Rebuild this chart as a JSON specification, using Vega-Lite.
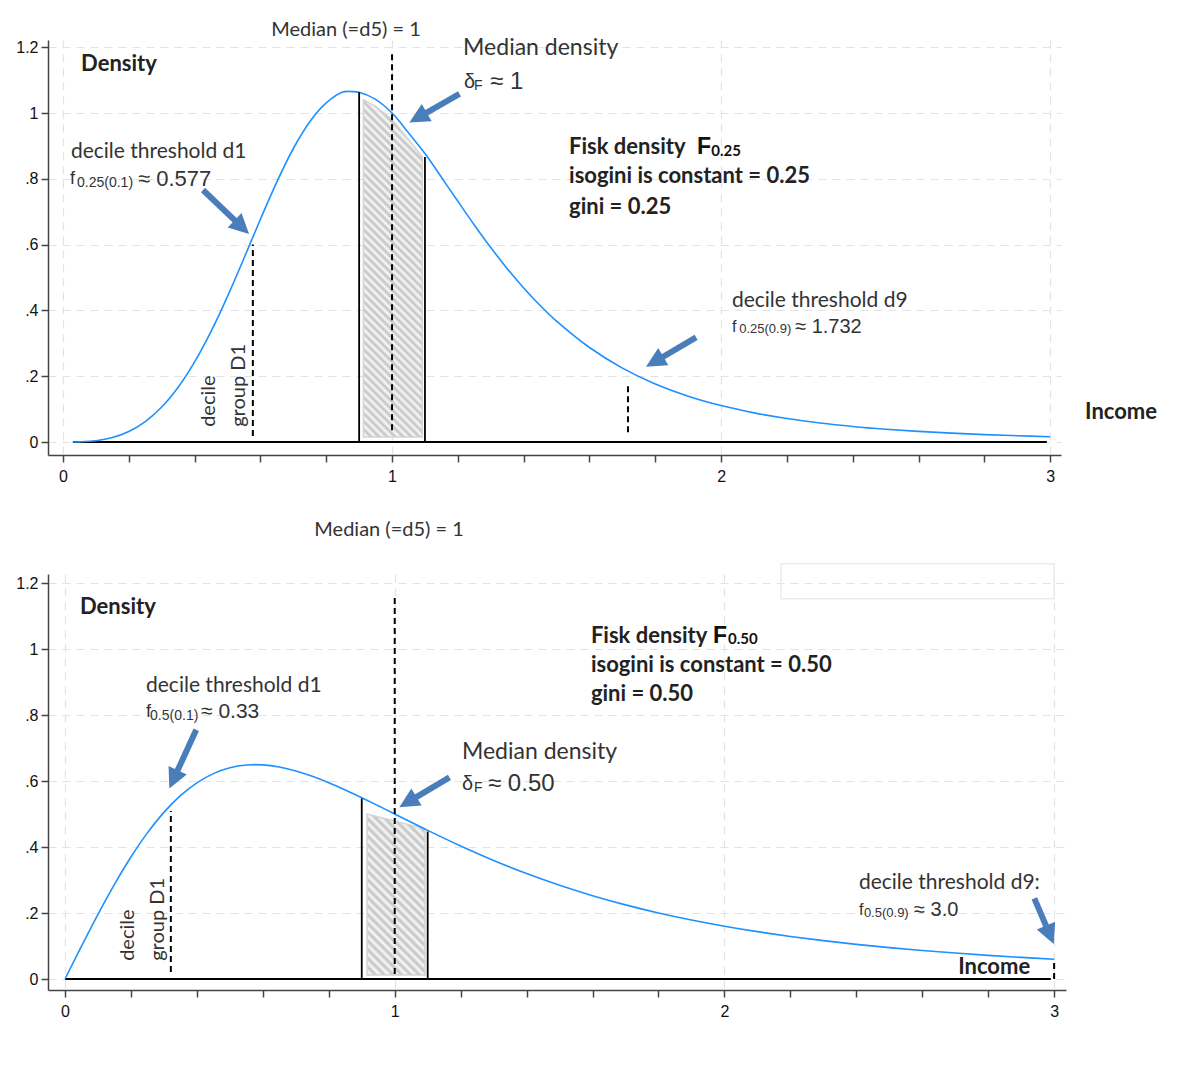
{
  "$schema": "https://vega.github.io/schema/vega-lite/v6.json",
  "background": "white",
  "padding": {"left": 15, "top": 20, "right": 5, "bottom": 5},
  "spacing": 35,
  "config": {
    "view": {"stroke": null},
    "axis": {
      "domainColor": "#444444", "domainWidth": 1.5,
      "tickColor": "#444444", "tickWidth": 1.5, "tickSize": 7,
      "labelFont": "Liberation Sans", "labelFontSize": 16, "labelColor": "#111111",
      "labelFlush": false, "labelOverlap": false,
      "gridColor": "#e3e3e3", "gridDash": [8, 6], "gridWidth": 1.2
    },
    "text": {"font": "Lato", "baseline": "middle", "align": "left", "color": "#333333"}
  },
  "vconcat": [
    {
      "width": 1013,
      "height": 415,
      "encoding": {
        "x": {"field": "x", "type": "quantitative", "title": null,
          "scale": {"domain": [-0.0456, 3.033], "nice": false, "zero": false},
          "axis": {"values": [0, 0.2, 0.4, 0.6, 0.8, 1, 1.2, 1.4, 1.6, 1.8, 2, 2.2, 2.4, 2.6, 2.8, 3],
            "labelExpr": "datum.value % 1 === 0 ? format(datum.value, 'd') : ''",
            "labelPadding": 6,
            "gridOpacity": {"condition": {"test": "datum.value % 1 === 0", "value": 1}, "value": 0}}},
        "y": {"field": "y", "type": "quantitative", "title": null,
          "scale": {"domain": [-0.0395, 1.222], "nice": false, "zero": false},
          "axis": {"values": [0, 0.2, 0.4, 0.6, 0.8, 1, 1.2],
            "labelExpr": "replace(format(datum.value, '~g'), '0.', '.')",
            "labelPadding": 3}}
      },
      "layer": [
        {
          "data": {"values": [{"x": 0.03, "x2": 2.99, "y": 0}]},
          "mark": {"type": "rule", "color": "black", "strokeWidth": 2},
          "encoding": {"x2": {"field": "x2"}}
        },
        {
          "data": {"values": [
            {"x": 0.913, "y": 1.04, "y2": 0.015},
            {"x": 0.95, "y": 1.02, "y2": 0.015},
            {"x": 1.0, "y": 0.98, "y2": 0.015},
            {"x": 1.05, "y": 0.92, "y2": 0.015},
            {"x": 1.092, "y": 0.867, "y2": 0.015}
          ]},
          "mark": {"type": "area", "stroke": "#d4d4d4", "strokeWidth": 1.5, "fill": {
            "gradient": "linear", "x1": 0, "y1": 1, "x2": 0.2, "y2": -0.15,
            "stops": [
              {"offset": 0, "color": "#c2c2c2"}, {"offset": 0.01, "color": "#f9f9f9"}, {"offset": 0.02, "color": "#c2c2c2"}, {"offset": 0.03, "color": "#f9f9f9"},
              {"offset": 0.04, "color": "#c2c2c2"}, {"offset": 0.05, "color": "#f9f9f9"}, {"offset": 0.06, "color": "#c2c2c2"}, {"offset": 0.07, "color": "#f9f9f9"},
              {"offset": 0.08, "color": "#c2c2c2"}, {"offset": 0.09, "color": "#f9f9f9"}, {"offset": 0.1, "color": "#c2c2c2"}, {"offset": 0.11, "color": "#f9f9f9"},
              {"offset": 0.12, "color": "#c2c2c2"}, {"offset": 0.13, "color": "#f9f9f9"}, {"offset": 0.14, "color": "#c2c2c2"}, {"offset": 0.15, "color": "#f9f9f9"},
              {"offset": 0.16, "color": "#c2c2c2"}, {"offset": 0.17, "color": "#f9f9f9"}, {"offset": 0.18, "color": "#c2c2c2"}, {"offset": 0.19, "color": "#f9f9f9"},
              {"offset": 0.2, "color": "#c2c2c2"}, {"offset": 0.21, "color": "#f9f9f9"}, {"offset": 0.22, "color": "#c2c2c2"}, {"offset": 0.23, "color": "#f9f9f9"},
              {"offset": 0.24, "color": "#c2c2c2"}, {"offset": 0.25, "color": "#f9f9f9"}, {"offset": 0.26, "color": "#c2c2c2"}, {"offset": 0.27, "color": "#f9f9f9"},
              {"offset": 0.28, "color": "#c2c2c2"}, {"offset": 0.29, "color": "#f9f9f9"}, {"offset": 0.3, "color": "#c2c2c2"}, {"offset": 0.31, "color": "#f9f9f9"},
              {"offset": 0.32, "color": "#c2c2c2"}, {"offset": 0.33, "color": "#f9f9f9"}, {"offset": 0.34, "color": "#c2c2c2"}, {"offset": 0.35, "color": "#f9f9f9"},
              {"offset": 0.36, "color": "#c2c2c2"}, {"offset": 0.37, "color": "#f9f9f9"}, {"offset": 0.38, "color": "#c2c2c2"}, {"offset": 0.39, "color": "#f9f9f9"},
              {"offset": 0.4, "color": "#c2c2c2"}, {"offset": 0.41, "color": "#f9f9f9"}, {"offset": 0.42, "color": "#c2c2c2"}, {"offset": 0.43, "color": "#f9f9f9"},
              {"offset": 0.44, "color": "#c2c2c2"}, {"offset": 0.45, "color": "#f9f9f9"}, {"offset": 0.46, "color": "#c2c2c2"}, {"offset": 0.47, "color": "#f9f9f9"},
              {"offset": 0.48, "color": "#c2c2c2"}, {"offset": 0.49, "color": "#f9f9f9"}, {"offset": 0.5, "color": "#c2c2c2"}, {"offset": 0.51, "color": "#f9f9f9"},
              {"offset": 0.52, "color": "#c2c2c2"}, {"offset": 0.53, "color": "#f9f9f9"}, {"offset": 0.54, "color": "#c2c2c2"}, {"offset": 0.55, "color": "#f9f9f9"},
              {"offset": 0.56, "color": "#c2c2c2"}, {"offset": 0.57, "color": "#f9f9f9"}, {"offset": 0.58, "color": "#c2c2c2"}, {"offset": 0.59, "color": "#f9f9f9"},
              {"offset": 0.6, "color": "#c2c2c2"}, {"offset": 0.61, "color": "#f9f9f9"}, {"offset": 0.62, "color": "#c2c2c2"}, {"offset": 0.63, "color": "#f9f9f9"},
              {"offset": 0.64, "color": "#c2c2c2"}, {"offset": 0.65, "color": "#f9f9f9"}, {"offset": 0.66, "color": "#c2c2c2"}, {"offset": 0.67, "color": "#f9f9f9"},
              {"offset": 0.68, "color": "#c2c2c2"}, {"offset": 0.69, "color": "#f9f9f9"}, {"offset": 0.7, "color": "#c2c2c2"}, {"offset": 0.71, "color": "#f9f9f9"},
              {"offset": 0.72, "color": "#c2c2c2"}, {"offset": 0.73, "color": "#f9f9f9"}, {"offset": 0.74, "color": "#c2c2c2"}, {"offset": 0.75, "color": "#f9f9f9"},
              {"offset": 0.76, "color": "#c2c2c2"}, {"offset": 0.77, "color": "#f9f9f9"}, {"offset": 0.78, "color": "#c2c2c2"}, {"offset": 0.79, "color": "#f9f9f9"},
              {"offset": 0.8, "color": "#c2c2c2"}, {"offset": 0.81, "color": "#f9f9f9"}, {"offset": 0.82, "color": "#c2c2c2"}, {"offset": 0.83, "color": "#f9f9f9"},
              {"offset": 0.84, "color": "#c2c2c2"}, {"offset": 0.85, "color": "#f9f9f9"}, {"offset": 0.86, "color": "#c2c2c2"}, {"offset": 0.87, "color": "#f9f9f9"},
              {"offset": 0.88, "color": "#c2c2c2"}, {"offset": 0.89, "color": "#f9f9f9"}, {"offset": 0.9, "color": "#c2c2c2"}, {"offset": 0.91, "color": "#f9f9f9"},
              {"offset": 0.92, "color": "#c2c2c2"}, {"offset": 0.93, "color": "#f9f9f9"}, {"offset": 0.94, "color": "#c2c2c2"}, {"offset": 0.95, "color": "#f9f9f9"},
              {"offset": 0.96, "color": "#c2c2c2"}, {"offset": 0.97, "color": "#f9f9f9"}, {"offset": 0.98, "color": "#c2c2c2"}, {"offset": 0.99, "color": "#f9f9f9"},
              {"offset": 1, "color": "#c2c2c2"}
            ]}},
          "encoding": {"y2": {"field": "y2"}}
        },
        {
          "data": {"values": [
            {"x": 0.03, "y": 0.0001}, {"x": 0.05, "y": 0.0005}, {"x": 0.1, "y": 0.004}, {"x": 0.15, "y": 0.0135},
            {"x": 0.2, "y": 0.0319}, {"x": 0.25, "y": 0.062}, {"x": 0.3, "y": 0.1063}, {"x": 0.35, "y": 0.1665},
            {"x": 0.4, "y": 0.2434}, {"x": 0.45, "y": 0.3364}, {"x": 0.5, "y": 0.4429}, {"x": 0.55, "y": 0.5586},
            {"x": 0.6, "y": 0.6771}, {"x": 0.65, "y": 0.7909}, {"x": 0.7, "y": 0.8922}, {"x": 0.75, "y": 0.9738},
            {"x": 0.8, "y": 1.0307}, {"x": 0.85, "y": 1.0637}, {"x": 0.88, "y": 1.0652}, {"x": 0.9, "y": 1.0632},
            {"x": 0.95, "y": 1.0416}, {"x": 1.0, "y": 1.0}, {"x": 1.05, "y": 0.94}, {"x": 1.1, "y": 0.8768},
            {"x": 1.15, "y": 0.805}, {"x": 1.2, "y": 0.7317}, {"x": 1.25, "y": 0.6597}, {"x": 1.3, "y": 0.591},
            {"x": 1.35, "y": 0.527}, {"x": 1.4, "y": 0.4682}, {"x": 1.45, "y": 0.415}, {"x": 1.5, "y": 0.3673},
            {"x": 1.6, "y": 0.2872}, {"x": 1.7, "y": 0.2247}, {"x": 1.8, "y": 0.1765}, {"x": 1.9, "y": 0.1393},
            {"x": 2.0, "y": 0.1107}, {"x": 2.1, "y": 0.0886}, {"x": 2.2, "y": 0.0714}, {"x": 2.3, "y": 0.0579},
            {"x": 2.4, "y": 0.0473}, {"x": 2.5, "y": 0.0389}, {"x": 2.6, "y": 0.0322}, {"x": 2.7, "y": 0.0269},
            {"x": 2.8, "y": 0.0225}, {"x": 2.9, "y": 0.019}, {"x": 3.0, "y": 0.0161}
          ]},
          "mark": {"type": "line", "color": "#1E90FF", "strokeWidth": 1.6, "interpolate": "catmull-rom"}
        },
        {
          "data": {"values": [{"x": 0.9, "y": 0, "y2": 1.063}, {"x": 1.1, "y": 0, "y2": 0.866}]},
          "mark": {"type": "rule", "color": "black", "strokeWidth": 1.8},
          "encoding": {"y2": {"field": "y2"}}
        },
        {
          "data": {"values": [{"x": 0.577, "y": 0.018, "y2": 0.6}, {"x": 1.0, "y": 0.036, "y2": 1.18}, {"x": 1.717, "y": 0.03, "y2": 0.179}]},
          "mark": {"type": "rule", "color": "black", "strokeWidth": 2, "strokeDash": [6, 4]},
          "encoding": {"y2": {"field": "y2"}}
        },
        {
          "data": {"values": [
            {"x": 0.4255, "y": 0.766, "x2": 0.5435, "y2": 0.653},
            {"x": 1.205, "y": 1.058, "x2": 1.079, "y2": 0.986},
            {"x": 1.924, "y": 0.318, "x2": 1.798, "y2": 0.244}
          ]},
          "mark": {"type": "rule", "color": "#4A7EBB", "strokeWidth": 6, "strokeCap": "butt"},
          "encoding": {"x2": {"field": "x2"}, "y2": {"field": "y2"}}
        },
        {
          "data": {"values": [
            {"x": 0.5435, "y": 0.653, "angle": 133.7},
            {"x": 1.079, "y": 0.986, "angle": 240.2},
            {"x": 1.798, "y": 0.244, "angle": 239.7}
          ]},
          "mark": {"type": "point", "shape": "M0,-1L1,1L-1,1Z", "filled": true, "size": 400, "color": "#4A7EBB", "opacity": 1},
          "encoding": {"angle": {"field": "angle", "type": "quantitative", "scale": null}}
        },
        {
          "data": {"values": [{"x": 0.86, "y": 1.252, "t": "Median (=d5) = 1"}]},
          "mark": {"type": "text", "fontSize": 20, "align": "center"},
          "encoding": {"text": {"field": "t"}}
        },
        {
          "data": {"values": [{"x": 0.024, "y": 0.881, "t": "decile threshold d1"}, {"x": 2.033, "y": 0.429, "t": "decile threshold d9"}]},
          "mark": {"type": "text", "fontSize": 21},
          "encoding": {"text": {"field": "t"}}
        },
        {
          "data": {"values": [{"x": 1.216, "y": 1.198, "t": "Median density"}]},
          "mark": {"type": "text", "fontSize": 23},
          "encoding": {"text": {"field": "t"}}
        },
        {
          "data": {"values": [{"x": 0.444, "y": 0.046, "t": "decile"}, {"x": 0.536, "y": 0.046, "t": "group D1"}]},
          "mark": {"type": "text", "fontSize": 20, "angle": 270},
          "encoding": {"text": {"field": "t"}}
        },
        {
          "data": {"values": [
            {"x": 0.055, "y": 1.149, "t": "Density"},
            {"x": 1.538, "y": 0.897, "t": "Fisk density"},
            {"x": 1.538, "y": 0.809, "t": "isogini is constant = 0.25"},
            {"x": 1.538, "y": 0.714, "t": "gini = 0.25"},
            {"x": 3.106, "y": 0.091, "t": "Income"}
          ]},
          "mark": {"type": "text", "fontSize": 22, "fontWeight": "bold", "color": "#222222"},
          "encoding": {"text": {"field": "t"}}
        },
        {
          "data": {"values": [{"x": 1.927, "y": 0.897, "t": "F"}]},
          "mark": {"type": "text", "font": "Liberation Sans", "fontSize": 23, "fontWeight": "bold", "color": "#111111"},
          "encoding": {"text": {"field": "t"}}
        },
        {
          "data": {"values": [{"x": 1.97, "y": 0.884, "t": "0.25"}]},
          "mark": {"type": "text", "fontSize": 15, "fontWeight": "bold", "color": "#111111"},
          "encoding": {"text": {"field": "t"}}
        },
        {
          "data": {"values": [{"x": 2.055, "y": 0.343, "t": "0.25(0.9)"}]},
          "mark": {"type": "text", "font": "Liberation Sans", "fontSize": 13},
          "encoding": {"text": {"field": "t"}}
        },
        {
          "data": {"values": [{"x": 0.0426, "y": 0.787, "t": "0.25(0.1)"}, {"x": 1.249, "y": 1.082, "t": "F"}]},
          "mark": {"type": "text", "font": "Liberation Sans", "fontSize": 14},
          "encoding": {"text": {"field": "t"}}
        },
        {
          "data": {"values": [{"x": 2.033, "y": 0.35, "t": "f"}]},
          "mark": {"type": "text", "font": "Liberation Sans", "fontSize": 16},
          "encoding": {"text": {"field": "t"}}
        },
        {
          "data": {"values": [{"x": 0.0213, "y": 0.799, "t": "f"}]},
          "mark": {"type": "text", "font": "Liberation Sans", "fontSize": 18},
          "encoding": {"text": {"field": "t"}}
        },
        {
          "data": {"values": [{"x": 2.225, "y": 0.35, "t": "≈ 1.732"}, {"x": 1.219, "y": 1.094, "t": "δ"}]},
          "mark": {"type": "text", "font": "Liberation Sans", "fontSize": 20},
          "encoding": {"text": {"field": "t"}}
        },
        {
          "data": {"values": [{"x": 0.228, "y": 0.799, "t": "≈ 0.577"}]},
          "mark": {"type": "text", "font": "Liberation Sans", "fontSize": 22},
          "encoding": {"text": {"field": "t"}}
        },
        {
          "data": {"values": [{"x": 1.298, "y": 1.094, "t": "≈ 1"}]},
          "mark": {"type": "text", "font": "Liberation Sans", "fontSize": 24},
          "encoding": {"text": {"field": "t"}}
        }
      ]
    },
    {
      "width": 1018,
      "height": 416,
      "encoding": {
        "x": {"field": "x", "type": "quantitative", "title": null,
          "scale": {"domain": [-0.0516, 3.036], "nice": false, "zero": false},
          "axis": {"values": [0, 0.2, 0.4, 0.6, 0.8, 1, 1.2, 1.4, 1.6, 1.8, 2, 2.2, 2.4, 2.6, 2.8, 3],
            "labelExpr": "datum.value % 1 === 0 ? format(datum.value, 'd') : ''",
            "labelPadding": 6,
            "gridOpacity": {"condition": {"test": "datum.value % 1 === 0", "value": 1}, "value": 0}}},
        "y": {"field": "y", "type": "quantitative", "title": null,
          "scale": {"domain": [-0.0333, 1.2273], "nice": false, "zero": false},
          "axis": {"values": [0, 0.2, 0.4, 0.6, 0.8, 1, 1.2],
            "labelExpr": "replace(format(datum.value, '~g'), '0.', '.')",
            "labelPadding": 3}}
      },
      "layer": [
        {
          "data": {"values": [{"x": 2.172, "x2": 3.0, "y": 1.258, "y2": 1.152}]},
          "mark": {"type": "rect", "fill": null, "stroke": "#ececec", "strokeWidth": 1.5},
          "encoding": {"x2": {"field": "x2"}, "y2": {"field": "y2"}}
        },
        {
          "data": {"values": [{"x": 0, "x2": 2.99, "y": 0}]},
          "mark": {"type": "rule", "color": "black", "strokeWidth": 2},
          "encoding": {"x2": {"field": "x2"}}
        },
        {
          "data": {"values": [
            {"x": 0.916, "y": 0.5, "y2": 0.012},
            {"x": 1.092, "y": 0.455, "y2": 0.012}
          ]},
          "mark": {"type": "area", "stroke": "#d4d4d4", "strokeWidth": 1.5, "fill": {
            "gradient": "linear", "x1": 0, "y1": 1, "x2": 0.43, "y2": -0.2,
            "stops": [
              {"offset": 0, "color": "#c2c2c2"}, {"offset": 0.02, "color": "#f9f9f9"}, {"offset": 0.04, "color": "#c2c2c2"}, {"offset": 0.06, "color": "#f9f9f9"},
              {"offset": 0.08, "color": "#c2c2c2"}, {"offset": 0.1, "color": "#f9f9f9"}, {"offset": 0.12, "color": "#c2c2c2"}, {"offset": 0.14, "color": "#f9f9f9"},
              {"offset": 0.16, "color": "#c2c2c2"}, {"offset": 0.18, "color": "#f9f9f9"}, {"offset": 0.2, "color": "#c2c2c2"}, {"offset": 0.22, "color": "#f9f9f9"},
              {"offset": 0.24, "color": "#c2c2c2"}, {"offset": 0.26, "color": "#f9f9f9"}, {"offset": 0.28, "color": "#c2c2c2"}, {"offset": 0.3, "color": "#f9f9f9"},
              {"offset": 0.32, "color": "#c2c2c2"}, {"offset": 0.34, "color": "#f9f9f9"}, {"offset": 0.36, "color": "#c2c2c2"}, {"offset": 0.38, "color": "#f9f9f9"},
              {"offset": 0.4, "color": "#c2c2c2"}, {"offset": 0.42, "color": "#f9f9f9"}, {"offset": 0.44, "color": "#c2c2c2"}, {"offset": 0.46, "color": "#f9f9f9"},
              {"offset": 0.48, "color": "#c2c2c2"}, {"offset": 0.5, "color": "#f9f9f9"}, {"offset": 0.52, "color": "#c2c2c2"}, {"offset": 0.54, "color": "#f9f9f9"},
              {"offset": 0.56, "color": "#c2c2c2"}, {"offset": 0.58, "color": "#f9f9f9"}, {"offset": 0.6, "color": "#c2c2c2"}, {"offset": 0.62, "color": "#f9f9f9"},
              {"offset": 0.64, "color": "#c2c2c2"}, {"offset": 0.66, "color": "#f9f9f9"}, {"offset": 0.68, "color": "#c2c2c2"}, {"offset": 0.7, "color": "#f9f9f9"},
              {"offset": 0.72, "color": "#c2c2c2"}, {"offset": 0.74, "color": "#f9f9f9"}, {"offset": 0.76, "color": "#c2c2c2"}, {"offset": 0.78, "color": "#f9f9f9"},
              {"offset": 0.8, "color": "#c2c2c2"}, {"offset": 0.82, "color": "#f9f9f9"}, {"offset": 0.84, "color": "#c2c2c2"}, {"offset": 0.86, "color": "#f9f9f9"},
              {"offset": 0.88, "color": "#c2c2c2"}, {"offset": 0.9, "color": "#f9f9f9"}, {"offset": 0.92, "color": "#c2c2c2"}, {"offset": 0.94, "color": "#f9f9f9"},
              {"offset": 0.96, "color": "#c2c2c2"}, {"offset": 0.98, "color": "#f9f9f9"}, {"offset": 1, "color": "#c2c2c2"}
            ]}},
          "encoding": {"y2": {"field": "y2"}}
        },
        {
          "data": {"values": [
            {"x": 0, "y": 0}, {"x": 0.05, "y": 0.0995}, {"x": 0.1, "y": 0.1961}, {"x": 0.15, "y": 0.2869},
            {"x": 0.2, "y": 0.3698}, {"x": 0.25, "y": 0.4429}, {"x": 0.3, "y": 0.505}, {"x": 0.35, "y": 0.5556},
            {"x": 0.4, "y": 0.5945}, {"x": 0.45, "y": 0.6224}, {"x": 0.5, "y": 0.64}, {"x": 0.55, "y": 0.6484},
            {"x": 0.6, "y": 0.6488}, {"x": 0.65, "y": 0.6424}, {"x": 0.7, "y": 0.6306}, {"x": 0.75, "y": 0.6144},
            {"x": 0.8, "y": 0.5949}, {"x": 0.85, "y": 0.573}, {"x": 0.9, "y": 0.5494}, {"x": 0.95, "y": 0.5249},
            {"x": 1.0, "y": 0.5}, {"x": 1.1, "y": 0.4504}, {"x": 1.2, "y": 0.4031}, {"x": 1.3, "y": 0.3593},
            {"x": 1.4, "y": 0.3196}, {"x": 1.5, "y": 0.284}, {"x": 1.6, "y": 0.2525}, {"x": 1.7, "y": 0.2247},
            {"x": 1.8, "y": 0.2002}, {"x": 1.9, "y": 0.1788}, {"x": 2.0, "y": 0.16}, {"x": 2.1, "y": 0.1435},
            {"x": 2.2, "y": 0.129}, {"x": 2.3, "y": 0.1163}, {"x": 2.4, "y": 0.105}, {"x": 2.5, "y": 0.0951},
            {"x": 2.6, "y": 0.0864}, {"x": 2.7, "y": 0.0786}, {"x": 2.8, "y": 0.0717}, {"x": 2.9, "y": 0.0655},
            {"x": 3.0, "y": 0.06}
          ]},
          "mark": {"type": "line", "color": "#1E90FF", "strokeWidth": 1.6, "interpolate": "catmull-rom"}
        },
        {
          "data": {"values": [{"x": 0.9, "y": 0, "y2": 0.547}, {"x": 1.1, "y": 0, "y2": 0.447}]},
          "mark": {"type": "rule", "color": "black", "strokeWidth": 1.8},
          "encoding": {"y2": {"field": "y2"}}
        },
        {
          "data": {"values": [{"x": 0.321, "y": 0.021, "y2": 0.509}, {"x": 1.0, "y": 0.015, "y2": 1.158}, {"x": 3.0, "y": 0.0, "y2": 0.055}]},
          "mark": {"type": "rule", "color": "black", "strokeWidth": 2, "strokeDash": [6, 4]},
          "encoding": {"y2": {"field": "y2"}}
        },
        {
          "data": {"values": [
            {"x": 0.398, "y": 0.755, "x2": 0.329, "y2": 0.605},
            {"x": 1.166, "y": 0.611, "x2": 1.04, "y2": 0.536},
            {"x": 2.94, "y": 0.2445, "x2": 2.987, "y2": 0.134}
          ]},
          "mark": {"type": "rule", "color": "#4A7EBB", "strokeWidth": 6, "strokeCap": "butt"},
          "encoding": {"x2": {"field": "x2"}, "y2": {"field": "y2"}}
        },
        {
          "data": {"values": [
            {"x": 0.329, "y": 0.605, "angle": 204.6},
            {"x": 1.04, "y": 0.536, "angle": 239},
            {"x": 2.987, "y": 0.134, "angle": 157}
          ]},
          "mark": {"type": "point", "shape": "M0,-1L1,1L-1,1Z", "filled": true, "size": 400, "color": "#4A7EBB", "opacity": 1},
          "encoding": {"angle": {"field": "angle", "type": "quantitative", "scale": null}}
        },
        {
          "data": {"values": [{"x": 0.983, "y": 1.361, "t": "Median (=d5) = 1"}]},
          "mark": {"type": "text", "fontSize": 20, "align": "center"},
          "encoding": {"text": {"field": "t"}}
        },
        {
          "data": {"values": [{"x": 0.2457, "y": 0.888, "t": "decile threshold d1"}, {"x": 2.408, "y": 0.291, "t": "decile threshold d9:"}]},
          "mark": {"type": "text", "fontSize": 21},
          "encoding": {"text": {"field": "t"}}
        },
        {
          "data": {"values": [{"x": 1.204, "y": 0.688, "t": "Median density"}]},
          "mark": {"type": "text", "fontSize": 23},
          "encoding": {"text": {"field": "t"}}
        },
        {
          "data": {"values": [{"x": 0.191, "y": 0.055, "t": "decile"}, {"x": 0.282, "y": 0.055, "t": "group D1"}]},
          "mark": {"type": "text", "fontSize": 20, "angle": 270},
          "encoding": {"text": {"field": "t"}}
        },
        {
          "data": {"values": [
            {"x": 0.0455, "y": 1.127, "t": "Density"},
            {"x": 1.595, "y": 1.039, "t": "Fisk density"},
            {"x": 1.595, "y": 0.952, "t": "isogini is constant = 0.50"},
            {"x": 1.595, "y": 0.864, "t": "gini = 0.50"},
            {"x": 2.709, "y": 0.036, "t": "Income"}
          ]},
          "mark": {"type": "text", "fontSize": 22, "fontWeight": "bold", "color": "#222222"},
          "encoding": {"text": {"field": "t"}}
        },
        {
          "data": {"values": [{"x": 1.965, "y": 1.039, "t": "F"}]},
          "mark": {"type": "text", "font": "Liberation Sans", "fontSize": 23, "fontWeight": "bold", "color": "#111111"},
          "encoding": {"text": {"field": "t"}}
        },
        {
          "data": {"values": [{"x": 2.011, "y": 1.03, "t": "0.50"}]},
          "mark": {"type": "text", "fontSize": 15, "fontWeight": "bold", "color": "#111111"},
          "encoding": {"text": {"field": "t"}}
        },
        {
          "data": {"values": [{"x": 2.423, "y": 0.2, "t": "0.5(0.9)"}]},
          "mark": {"type": "text", "font": "Liberation Sans", "fontSize": 13},
          "encoding": {"text": {"field": "t"}}
        },
        {
          "data": {"values": [{"x": 0.258, "y": 0.797, "t": "0.5(0.1)"}, {"x": 1.2405, "y": 0.579, "t": "F"}]},
          "mark": {"type": "text", "font": "Liberation Sans", "fontSize": 14},
          "encoding": {"text": {"field": "t"}}
        },
        {
          "data": {"values": [{"x": 2.408, "y": 0.209, "t": "f"}]},
          "mark": {"type": "text", "font": "Liberation Sans", "fontSize": 16},
          "encoding": {"text": {"field": "t"}}
        },
        {
          "data": {"values": [{"x": 0.2457, "y": 0.809, "t": "f"}]},
          "mark": {"type": "text", "font": "Liberation Sans", "fontSize": 18},
          "encoding": {"text": {"field": "t"}}
        },
        {
          "data": {"values": [{"x": 2.575, "y": 0.209, "t": "≈ 3.0"}, {"x": 1.204, "y": 0.591, "t": "δ"}]},
          "mark": {"type": "text", "font": "Liberation Sans", "fontSize": 20},
          "encoding": {"text": {"field": "t"}}
        },
        {
          "data": {"values": [{"x": 0.4125, "y": 0.809, "t": "≈ 0.33"}]},
          "mark": {"type": "text", "font": "Liberation Sans", "fontSize": 21},
          "encoding": {"text": {"field": "t"}}
        },
        {
          "data": {"values": [{"x": 1.283, "y": 0.591, "t": "≈ 0.50"}]},
          "mark": {"type": "text", "font": "Liberation Sans", "fontSize": 24},
          "encoding": {"text": {"field": "t"}}
        }
      ]
    }
  ]
}
